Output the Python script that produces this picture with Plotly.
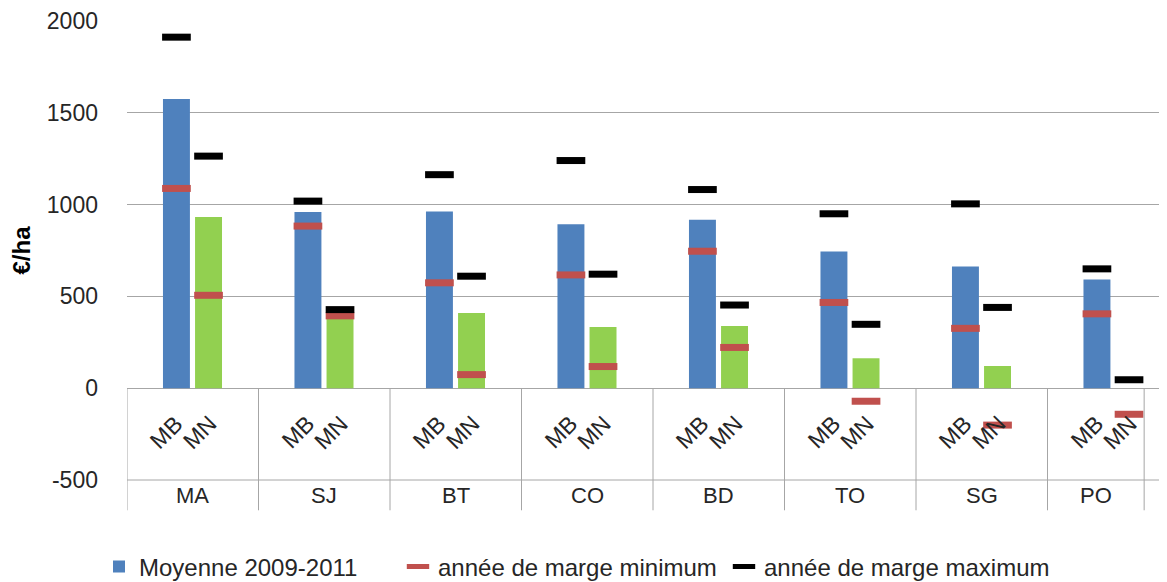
import plotly.graph_objects as go

# données
groupes = ["MA", "SJ", "BT", "CO", "BD", "TO", "SG", "PO"]
sous_cat = ["MB", "MN"]
moy_mb = [1575, 960, 962, 893, 918, 745, 663, 592]
moy_mn = [933, 392, 409, 333, 339, 163, 121, 0]
min_mb = [1088, 883, 574, 617, 746, 467, 326, 405]
min_mn = [506, 394, 74, 118, 222, -71, -201, -142]
max_mb = [1912, 1019, 1163, 1240, 1082, 950, 1004, 650]
max_mn = [1264, 428, 610, 621, 453, 348, 440, 46]
y_ticks = [-500, 0, 500, 1000, 1500, 2000]
y_labels = ["-500", "0", "500", "1000", "1500", "2000"]

BLEU, VERT, ROUGE, NOIR = "#4F81BD", "#92D050", "#C0504D", "#000000"
GRIS = "#A6A6A6"
TXT = "#262626"
FONT = "Liberation Sans, Arial, sans-serif"

# la page a une marge de 8 px autour de la figure
W, H = 1159, 574

# positions sur l'axe (une unité par groupe)
OFF_MB, OFF_MN, LARG = 0.376, 0.62, 0.205
x_mb = [i + OFF_MB for i in range(len(groupes))]
x_mn = [i + OFF_MN for i in range(len(groupes))]
bords = list(range(len(groupes))) + [7.735]

fig = go.Figure()
fig.add_trace(go.Bar(x=x_mb, y=moy_mb, width=LARG, marker_color=BLEU,
                     marker_line_width=0, name="Moyenne 2009-2011", legend="legend"))
fig.add_trace(go.Bar(x=x_mn, y=moy_mn, width=LARG, marker_color=VERT,
                     marker_line_width=0, showlegend=False))
fig.add_trace(go.Scatter(x=x_mb + x_mn, y=min_mb + min_mn, mode="markers",
                         marker=dict(symbol="line-ew", size=20.5,
                                     line=dict(color=ROUGE, width=7)),
                         name="année de marge minimum", legend="legend2"))
fig.add_trace(go.Scatter(x=x_mb + x_mn, y=max_mb + max_mn, mode="markers",
                         marker=dict(symbol="line-ew", size=20.5,
                                     line=dict(color=NOIR, width=7)),
                         name="année de marge maximum", legend="legend3"))

# tableau des catégories sous l'axe
fig.add_shape(type="line", xref="paper", yref="paper", x0=0, x1=1, y0=0, y1=0,
              line=dict(color=GRIS, width=1))
for b in bords:
    fig.add_shape(type="line", xref="x", yref="paper", x0=b, x1=b, y0=500 / 2500,
                  y1=-0.066, line=dict(color=GRIS, width=1))
for i, g in enumerate(groupes):
    fig.add_annotation(x=(bords[i] + bords[i + 1]) / 2, xref="x", y=-0.034, yref="paper",
                       yanchor="middle", text=g, showarrow=False,
                       font=dict(size=22, color=TXT, family=FONT))
    for xc, lab in zip((x_mb[i] - 0.075, x_mn[i] - 0.065), sous_cat):
        fig.add_annotation(x=xc, y=-240, text=lab, showarrow=False, textangle=-45,
                           font=dict(size=23, color=TXT, family=FONT))

leg = dict(orientation="h", yanchor="middle", y=15 / H, yref="container",
           xanchor="left", xref="container",
           font=dict(size=24, color=TXT, family=FONT), bgcolor="rgba(0,0,0,0)")
fig.update_layout(
    width=W, height=H,
    margin=dict(l=119, r=0, t=13, b=102, autoexpand=False),
    paper_bgcolor="white", plot_bgcolor="white",
    font=dict(family=FONT, color=TXT),
    legend=dict(leg, x=91 / W),
    legend2=dict(leg, x=390 / W),
    legend3=dict(leg, x=716 / W),
)
fig.update_xaxes(range=[0, 1040 / 131.5], showticklabels=False, showgrid=False,
                 zeroline=False, showline=False)
fig.update_yaxes(range=[-500, 2000], tickvals=y_ticks, ticktext=y_labels,
                 showgrid=True, gridcolor=GRIS, gridwidth=1,
                 zeroline=True, zerolinecolor=GRIS, zerolinewidth=1, showline=False,
                 tickfont=dict(size=23, color=TXT), ticklabelstandoff=28,
                 title=dict(text="<b>€/ha</b>", font=dict(size=24, color="#000000"), standoff=14))

fig.write_html("out.html")
